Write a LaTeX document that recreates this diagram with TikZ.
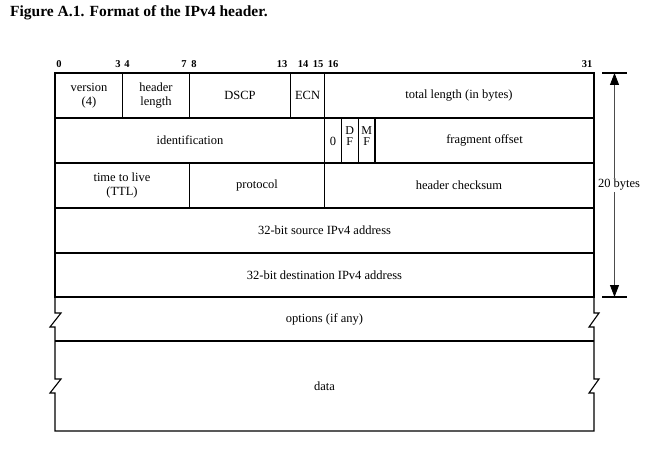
\documentclass[tikz,border=0pt]{standalone}
\usepackage{fontspec}
\setmainfont{Liberation Serif}
\usetikzlibrary{arrows.meta}
\begin{document}
\begin{tikzpicture}[x=1pt,y=-1pt,
  grid/.style={line width=1.1pt, line join=miter},
  cell/.style={font=\fontsize{12.5}{14.5}\selectfont, align=center, inner sep=0pt},
  flag/.style={font=\fontsize{12}{11}\selectfont, align=center, inner sep=0pt},
  bitnum/.style={font=\bfseries\fontsize{10.5}{11}\selectfont, inner sep=0pt},
  tick/.style={line width=1.2pt},
  dimline/.style={line width=0.8pt, gray!60!black}]
\useasboundingbox (0,0) rectangle (661,457);
% title
\node[anchor=west, inner sep=0pt, font=\bfseries\fontsize{15.5}{16}\selectfont] (title) at (10,13) {Figure A.1. Format of the IPv4 header.};
% bit numbers
\node[bitnum] (b0) at (59,64) {0};
\node[bitnum] (b3) at (118,64) {3};
\node[bitnum] (b4) at (127,64) {4};
\node[bitnum] (b7) at (184,64) {7};
\node[bitnum] (b8) at (194,64) {8};
\node[bitnum] (b13) at (282,64) {13};
\node[bitnum] (b14) at (303,64) {14};
\node[bitnum] (b15) at (318,64) {15};
\node[bitnum] (b16) at (333,64) {16};
\node[bitnum] (b31) at (587,64) {31};
% outer frame rows 1-5
\draw[grid] (55,73) rectangle (594,297);
\foreach \y in {118,163,208,253} \draw[grid] (55,\y) -- (594,\y);
% row 1 dividers
\draw[grid] (122.4,73) -- (122.4,118);
\draw[grid] (189.7,73) -- (189.7,118);
\draw[grid] (290.8,73) -- (290.8,118);
\draw[grid] (324.5,73) -- (324.5,163);
% row 2 dividers
\draw[grid] (341.3,118) -- (341.3,163);
\draw[grid] (358.2,118) -- (358.2,163);
\draw[grid] (375.0,118) -- (375.0,163);
% row 3 dividers
\draw[grid] (189.7,163) -- (189.7,208);
\draw[grid] (324.5,163) -- (324.5,208);
% options and data rows with break marks
\draw[grid] (55,297) -- (55,313) -- (61,313) -- (50,327) -- (55,327) -- (55,379) -- (61,379) -- (50,393) -- (55,393) -- (55,431) -- (594,431)
  -- (594,393) -- (589,393) -- (599,379) -- (594,379) -- (594,327) -- (589,327) -- (599,313) -- (594,313) -- (594,297);
\draw[grid] (55,341) -- (594,341);
% cell texts
\node[cell] (version) at (89,95.5) {version\\(4)};
\node[cell] (hlen) at (156,95.5) {header\\length};
\node[cell] (dscp) at (240,95.5) {DSCP};
\node[cell] (ecn) at (307.6,95.5) {ECN};
\node[cell] (tlen) at (459,95.5) {total length (in bytes)};
\node[cell] (ident) at (190,140.5) {identification};
\node[cell] (zero) at (333,141) {0};
\node[flag] (df) at (349.8,136) {D\\F};
\node[flag] (mf) at (366.6,136) {M\\F};
\node[cell] (frag) at (484.5,140.5) {fragment offset};
\node[cell] (ttl) at (122,185.5) {time to live\\(TTL)};
\node[cell] (proto) at (257,185.5) {protocol};
\node[cell] (csum) at (459,185.5) {header checksum};
\node[cell] (src) at (324.5,230.5) {32-bit source IPv4 address};
\node[cell] (dst) at (324.5,275) {32-bit destination IPv4 address};
\node[cell] (opts) at (324.5,319) {options (if any)};
\node[cell] (data) at (324.5,386) {data};
% 20 bytes dimension
\draw[tick] (602,73) -- (627,73);
\draw[tick] (602,297) -- (627,297);
\coordinate (atop) at (614.5,73);
\coordinate (abot) at (614.5,297);
\node[cell, fill=white, inner sep=1.5pt] (bytes) at (619,185) {20 bytes};
\draw[dimline, -{Triangle[length=12pt,width=9pt,black]}] (atop |- bytes.north) -- (atop);
\draw[dimline, -{Triangle[length=12pt,width=9pt,black]}] (atop |- bytes.south) -- (abot);
\end{tikzpicture}
\end{document}
